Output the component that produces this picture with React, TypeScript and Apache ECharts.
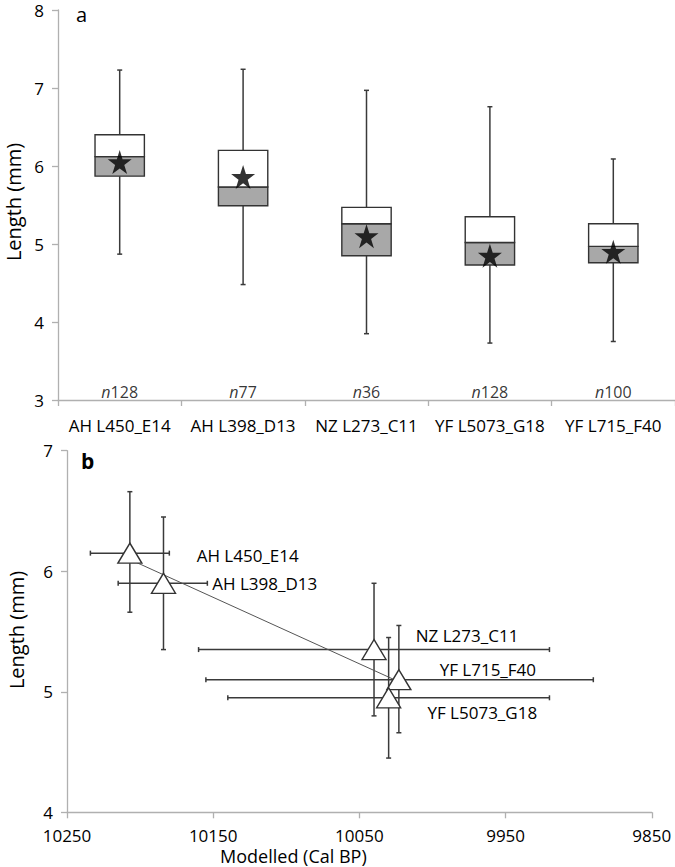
import React, { useEffect, useRef } from "react";
import * as echarts from "echarts";

// ---- Panel a: box plots ----
const categories = ["AH L450_E14", "AH L398_D13", "NZ L273_C11", "YF L5073_G18", "YF L715_F40"];
const whiskerLow = [4.87, 4.48, 3.85, 3.73, 3.75];
const quartile1 = [5.87, 5.49, 4.85, 4.73, 4.76];
const medians = [6.12, 5.73, 5.26, 5.02, 4.97];
const quartile3 = [6.4, 6.2, 5.47, 5.35, 5.26];
const whiskerHigh = [7.23, 7.24, 6.97, 6.76, 6.09];
const means = [6.05, 5.86, 5.1, 4.85, 4.9];
const sampleSizes = [128, 77, 36, 128, 100];

// ---- Panel b: length vs modelled age ----
const siteLabels = ["AH L450_E14", "AH L398_D13", "NZ L273_C11", "YF L715_F40", "YF L5073_G18"];
const modelledAge = [10207, 10184, 10040, 10023, 10030];
const ageOlder = [10234, 10215, 10160, 10155, 10140];
const ageYounger = [10180, 10154, 9920, 9890, 9920];
const meanLength = [6.15, 5.9, 5.35, 5.1, 4.95];
const lengthLow = [5.66, 5.35, 4.8, 4.66, 4.45];
const lengthHigh = [6.66, 6.45, 5.9, 5.55, 5.45];

const yTitle = "Length (mm)";
const xTitle = "Modelled (Cal BP)";

// label placement (style only)
const labelOffsets = [
  [49, 2],
  [31, 0],
  [24, -14],
  [23, -10],
  [21, 15],
];

const FONT = "Open Sans";
const AXIS_GRAY = "#b0b0b0";
const DARK = "#3a3a3a";
const TEXT = "#000";

const starPath =
  "path://M50,0 L61.8,36.2 L100,36.2 L69.1,58.6 L80.9,95.1 L50,72.7 L19.1,95.1 L30.9,58.6 L0,36.2 L38.2,36.2 Z";

function regression(xs: number[], ys: number[]) {
  const n = xs.length;
  const mx = xs.reduce((a, b) => a + b, 0) / n;
  const my = ys.reduce((a, b) => a + b, 0) / n;
  let sxy = 0;
  let sxx = 0;
  for (let i = 0; i < n; i++) {
    sxy += (xs[i] - mx) * (ys[i] - my);
    sxx += (xs[i] - mx) * (xs[i] - mx);
  }
  const slope = sxy / sxx;
  const xmin = Math.min(...xs);
  const xmax = Math.max(...xs);
  return [
    [xmax, my + slope * (xmax - mx)],
    [xmin, my + slope * (xmin - mx)],
  ];
}

export default function App() {
  const ref = useRef<HTMLDivElement>(null);

  useEffect(() => {
    if (!ref.current) return;
    const chart = echarts.init(ref.current, undefined, { renderer: "svg" });

    const boxData = categories.map((_, i) => [
      i,
      whiskerLow[i],
      quartile1[i],
      medians[i],
      quartile3[i],
      whiskerHigh[i],
    ]);

    const errData = siteLabels.map((_, i) => [
      modelledAge[i],
      meanLength[i],
      ageOlder[i],
      ageYounger[i],
      lengthLow[i],
      lengthHigh[i],
    ]);

    const trend = regression(modelledAge, meanLength);

    const axisCommon = {
      axisLine: { show: true, lineStyle: { color: AXIS_GRAY, width: 1.3 } },
      axisTick: { show: true, length: 6, lineStyle: { color: AXIS_GRAY, width: 1.3 } },
      splitLine: { show: false },
    };

    const titleStyle = {
      text: yTitle,
      fontSize: 20,
      fontFamily: FONT,
      fill: TEXT,
      align: "center",
      verticalAlign: "middle",
    };

    const option: any = {
      animation: false,
      backgroundColor: "#ffffff",
      textStyle: { fontFamily: FONT, fontSize: 16, color: TEXT },
      grid: [
        { left: 58, top: 10, width: 623, height: 390 },
        { left: 67, top: 450.7, width: 584.8, height: 361.6 },
      ],
      xAxis: [
        {
          type: "category",
          gridIndex: 0,
          data: categories,
          ...axisCommon,
          axisLabel: { color: TEXT, fontSize: 17, margin: 17, fontFamily: FONT, interval: 0 },
        },
        {
          type: "value",
          gridIndex: 1,
          min: 9850,
          max: 10250,
          interval: 100,
          inverse: true,
          ...axisCommon,
          axisLabel: {
            color: TEXT,
            fontSize: 17,
            margin: 15,
            fontFamily: FONT,
            formatter: (v: number) => String(v),
          },
          name: xTitle,
          nameLocation: "middle",
          nameGap: 35,
          nameTextStyle: {
            color: TEXT,
            fontSize: 18,
            fontFamily: FONT,
            padding: [0, 132, 0, 0],
          },
        },
      ],
      yAxis: [
        {
          type: "value",
          gridIndex: 0,
          min: 3,
          max: 8,
          interval: 1,
          ...axisCommon,
          axisLabel: { color: TEXT, fontSize: 17, margin: 14, fontFamily: FONT },
        },
        {
          type: "value",
          gridIndex: 1,
          min: 4,
          max: 7,
          interval: 1,
          ...axisCommon,
          axisLabel: { color: TEXT, fontSize: 17, margin: 14, fontFamily: FONT },
        },
      ],
      graphic: [
        {
          type: "text",
          left: 76,
          top: 4,
          style: { text: "a", fontSize: 20, fontFamily: FONT, fill: TEXT },
        },
        {
          type: "text",
          left: 81,
          top: 450,
          style: { text: "b", fontSize: 21, fontWeight: "bold", fontFamily: FONT, fill: TEXT },
        },
        { type: "text", x: 13, y: 202, rotation: Math.PI / 2, style: titleStyle },
        { type: "text", x: 16, y: 630, rotation: Math.PI / 2, style: titleStyle },
      ],
      series: [
        {
          type: "custom",
          name: "boxes",
          xAxisIndex: 0,
          yAxisIndex: 0,
          data: boxData,
          encode: { x: 0, y: [1, 2, 3, 4, 5] },
          z: 2,
          renderItem: (params: any, api: any) => {
            const i = api.value(0);
            const band = api.size([1, 0])[0];
            const bw = band * 0.4;
            const pLow = api.coord([i, api.value(1)]);
            const pQ1 = api.coord([i, api.value(2)]);
            const pMed = api.coord([i, api.value(3)]);
            const pQ3 = api.coord([i, api.value(4)]);
            const pHigh = api.coord([i, api.value(5)]);
            const cx = pLow[0];
            const cap = 2.5;
            const wStyle = { stroke: DARK, lineWidth: 1.5 };
            const bStyle = { stroke: "#333", lineWidth: 1.4 };
            return {
              type: "group",
              children: [
                { type: "line", shape: { x1: cx, y1: pHigh[1], x2: cx, y2: pQ3[1] }, style: wStyle },
                { type: "line", shape: { x1: cx, y1: pQ1[1], x2: cx, y2: pLow[1] }, style: wStyle },
                { type: "line", shape: { x1: cx - cap, y1: pHigh[1], x2: cx + cap, y2: pHigh[1] }, style: wStyle },
                { type: "line", shape: { x1: cx - cap, y1: pLow[1], x2: cx + cap, y2: pLow[1] }, style: wStyle },
                {
                  type: "rect",
                  shape: { x: cx - bw / 2, y: pMed[1], width: bw, height: pQ1[1] - pMed[1] },
                  style: { fill: "#a8a8a8", ...bStyle },
                },
                {
                  type: "rect",
                  shape: { x: cx - bw / 2, y: pQ3[1], width: bw, height: pMed[1] - pQ3[1] },
                  style: { fill: "#ffffff", ...bStyle },
                },
              ],
            };
          },
        },
        {
          type: "scatter",
          name: "mean",
          xAxisIndex: 0,
          yAxisIndex: 0,
          data: categories.map((c, i) => [c, means[i]]),
          symbol: starPath,
          symbolSize: 24,
          itemStyle: { color: "#000" },
          z: 5,
        },
        {
          type: "scatter",
          name: "n",
          xAxisIndex: 0,
          yAxisIndex: 0,
          data: categories.map((c) => [c, 3]),
          symbolSize: 0,
          z: 5,
          label: {
            show: true,
            position: "top",
            distance: 0,
            fontSize: 16,
            color: TEXT,
            fontFamily: FONT,
            formatter: (p: any) => `{i|n}${sampleSizes[p.dataIndex]}`,
            rich: {
              i: { fontStyle: "italic", fontSize: 16, color: TEXT, fontFamily: FONT },
            },
          },
        },
        {
          type: "custom",
          name: "errorbars",
          xAxisIndex: 1,
          yAxisIndex: 1,
          data: errData,
          encode: { x: [0, 2, 3], y: [1, 4, 5] },
          z: 2,
          renderItem: (params: any, api: any) => {
            const c = api.coord([api.value(0), api.value(1)]);
            const xo = api.coord([api.value(2), api.value(1)]);
            const xy = api.coord([api.value(3), api.value(1)]);
            const yl = api.coord([api.value(0), api.value(4)]);
            const yh = api.coord([api.value(0), api.value(5)]);
            const cap = 2.5;
            const s = { stroke: DARK, lineWidth: 1.5 };
            return {
              type: "group",
              children: [
                { type: "line", shape: { x1: xo[0], y1: c[1], x2: xy[0], y2: c[1] }, style: s },
                { type: "line", shape: { x1: xo[0], y1: c[1] - cap, x2: xo[0], y2: c[1] + cap }, style: s },
                { type: "line", shape: { x1: xy[0], y1: c[1] - cap, x2: xy[0], y2: c[1] + cap }, style: s },
                { type: "line", shape: { x1: c[0], y1: yl[1], x2: c[0], y2: yh[1] }, style: s },
                { type: "line", shape: { x1: c[0] - cap, y1: yl[1], x2: c[0] + cap, y2: yl[1] }, style: s },
                { type: "line", shape: { x1: c[0] - cap, y1: yh[1], x2: c[0] + cap, y2: yh[1] }, style: s },
              ],
            };
          },
        },
        {
          type: "line",
          name: "trend",
          xAxisIndex: 1,
          yAxisIndex: 1,
          data: trend,
          symbol: "none",
          lineStyle: { color: "#555", width: 1 },
          z: 3,
        },
        {
          type: "scatter",
          name: "sites",
          xAxisIndex: 1,
          yAxisIndex: 1,
          symbol: "triangle",
          symbolSize: [24, 20],
          itemStyle: { color: "#ffffff", borderColor: "#333", borderWidth: 1.4, opacity: 1 },
          z: 6,
          data: siteLabels.map((name, i) => ({
            value: [modelledAge[i], meanLength[i]],
            label: {
              show: true,
              formatter: name,
              position: "right",
              distance: 5,
              offset: labelOffsets[i],
              fontSize: 17,
              color: TEXT,
              fontFamily: FONT,
            },
          })),
        },
      ],
    };

    chart.setOption(option);
    return () => chart.dispose();
  }, []);

  return (
    <div
      ref={ref}
      style={{ position: "fixed", left: 0, top: 0, width: 675, height: 867, background: "#fff" }}
    />
  );
}
